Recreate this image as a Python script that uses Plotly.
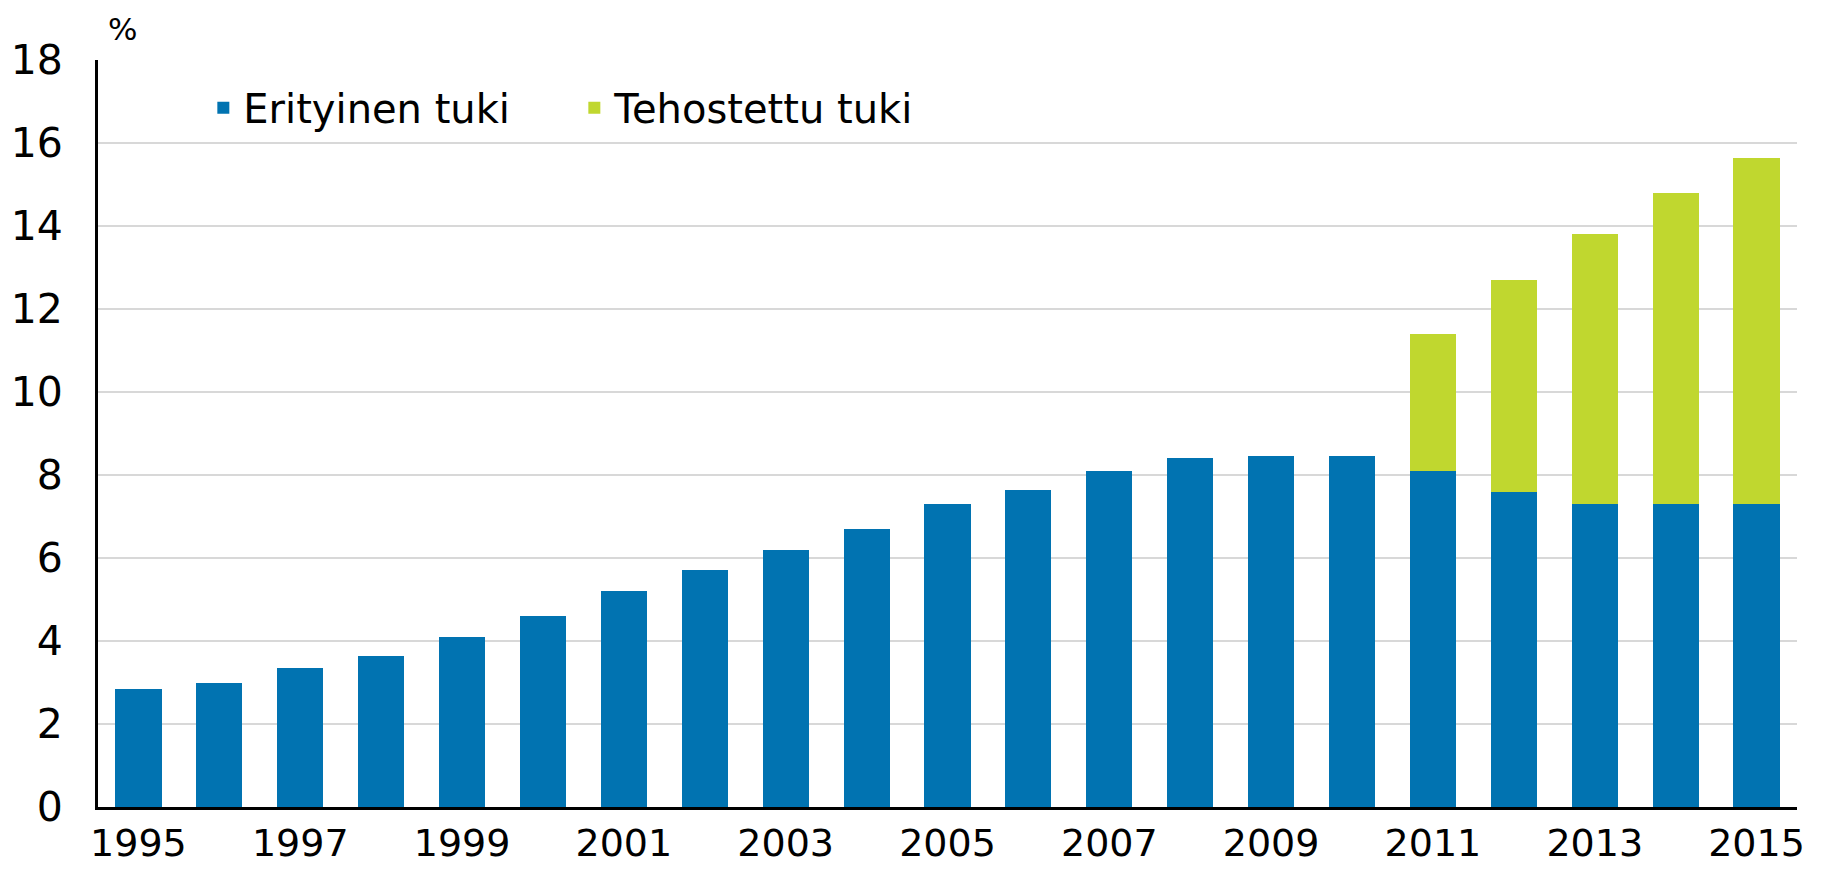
import plotly.graph_objects as go

years = [str(y) for y in range(1995, 2016)]
erityinen = [2.85, 3.0, 3.35, 3.65, 4.1, 4.6, 5.2, 5.7, 6.2, 6.7, 7.3, 7.65, 8.1, 8.4, 8.45, 8.45,
             8.1, 7.6, 7.3, 7.3, 7.3]
tehostettu = [None] * 16 + [3.3, 5.1, 6.5, 7.5, 8.35]
x_tick_labels = years[::2]
y_ticks = [0, 2, 4, 6, 8, 10, 12, 14, 16, 18]

BLUE = "#0173B1"
GREEN = "#C0D72F"
FONT = "DejaVu Sans"

# page has an 8px body margin; figure sized to fit the 1821x869 window
W, H = 1813, 861
L, R, T, B = 90, 24, 52, 62
PW, PH = W - L - R, H - T - B

fig = go.Figure()
fig.add_trace(go.Bar(x=years, y=erityinen, name="Erityinen tuki", marker_color=BLUE,
                     marker_line_width=0))
fig.add_trace(go.Bar(x=years, y=tehostettu, name="Tehostettu tuki", marker_color=GREEN,
                     marker_line_width=0))

fig.update_layout(
    barmode="stack",
    bargap=0.43,
    width=W, height=H,
    margin=dict(l=L, r=R, t=T, b=B, autoexpand=False),
    paper_bgcolor="white",
    plot_bgcolor="white",
    font=dict(family=FONT, size=39, color="black"),
    legend=dict(orientation="h", x=0.062, xanchor="left", y=0.936, yanchor="middle",
                font=dict(family=FONT, size=40, color="black"),
                entrywidth=326, entrywidthmode="pixels", bgcolor="rgba(0,0,0,0)",
                traceorder="normal"),
    xaxis=dict(type="category", tickmode="array", tickvals=x_tick_labels, ticktext=x_tick_labels,
               showline=True, linecolor="black", linewidth=3, ticks="", ticklen=0,
               showgrid=False, automargin=False,
               ticklabelstandoff=0, tickfont=dict(family=FONT, size=38, color="black")),
    yaxis=dict(range=[0, 18], tickmode="array", tickvals=y_ticks, showline=True,
               linecolor="black", linewidth=3, ticks="", showgrid=True, gridcolor="#d8d8d8",
               gridwidth=2, zeroline=False, ticklabelstandoff=24, automargin=False,
               tickfont=dict(family=FONT, size=41, color="black")),
    annotations=[dict(text="%", xref="paper", yref="paper", x=24 / PW,
                      y=(PH + 31) / PH, xanchor="center", yanchor="middle", showarrow=False,
                      borderpad=0, font=dict(family=FONT, size=31, color="black"))],
)

fig.write_html("out.html")
